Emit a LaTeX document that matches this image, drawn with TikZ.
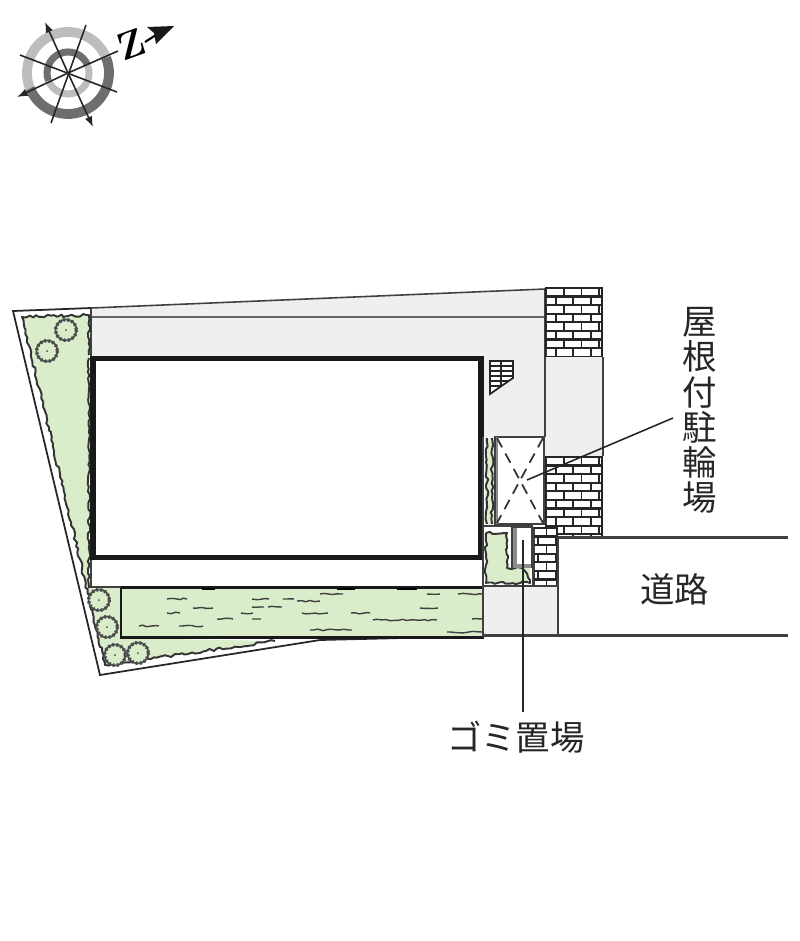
\documentclass[tikz,border=0pt]{standalone}
\usepackage{fontspec}
\newfontfamily\cjk{Noto Sans CJK JP}
\usetikzlibrary{arrows.meta,decorations.pathmorphing}
\definecolor{lawn}{HTML}{DAEDCB}
\definecolor{paving}{HTML}{EFEFEF}
\definecolor{ringlight}{HTML}{BDBDBD}
\definecolor{ringdark}{HTML}{6E6E6E}
\tikzset{
    wall/.style={draw=black!75, line width=.45pt},
    rough/.style={draw=black!80, line width=.55pt, line join=round, decorate, decoration={random steps, segment length=1pt, amplitude=.4pt}},
    tuft/.style={black!75, line width=.4pt, decorate, decoration={random steps, segment length=1.2pt, amplitude=.25pt}},
    treeline/.style={draw=black!70, line width=.5pt},
    treebump/.style={draw=black!70, line width=1pt, dash pattern=on .5pt off .7pt},
    spoke/.style={black!85, line width=.45pt},
    spokehead/.style={spoke, -{Latex[length=3pt, width=2.2pt]}},
    leader/.style={black!85, line width=.45pt},
    label/.style={font=\cjk\fontsize{9.8}{10}\selectfont, text=black!85, inner sep=0pt},
}
\newcommand{\brickwall}[4]{
    \fill[black!85] (#1,#2) rectangle (#3,#4);
    \begin{scope}
        \clip (#1+2,#2+2) rectangle (#3-2,#4-1);
        \foreach \row in {0,...,12} {
            \pgfmathsetmacro{\rowy}{#2+2+8.6*\row}
            \pgfmathsetmacro{\shift}{mod(\row,2)==0 ? 547.3 : 539.2}
            \foreach \col in {-1,...,3}
                \fill[white] (\shift+17.5*\col,\rowy) rectangle ++(15.8,6.4);
        }
    \end{scope}
}

\begin{document}
\begin{tikzpicture}[x=.01cm, y=-.01cm]
    \useasboundingbox (0,0) rectangle (800,941);

    \draw[ringlight, line width=2.8pt] (106,57.6) arc[start angle=-22, end angle=-202, radius=41];
    \draw[ringdark, line width=2.8pt] (106,57.6) arc[start angle=-22, end angle=158, radius=41];
    \draw[ringdark, line width=2pt] (87.5,65.1) arc[start angle=-22, end angle=-202, radius=21];
    \draw[ringlight, line width=2pt] (87.5,65.1) arc[start angle=-22, end angle=158, radius=21];
    \draw[spokehead] (68,73) -- (45,22);
    \draw[spokehead] (68,73) -- (93,127);
    \draw[spokehead] (68,73) -- (17,97);
    \draw[spoke] (68,73) -- (118,51);
    \draw[spoke] (86,25) -- (51,123);
    \draw[spoke] (20,55) -- (117,92);
    \node[rotate=20, font=\bfseries\fontsize{11}{11}\selectfont, inner sep=0pt] (north) at (131,44) {Z};
    \draw[black, line width=.6pt] (145,42) -- (156,35);
    \fill[black!90] (174,26) -- (147,27) -- (154,33) -- (156,44) -- cycle;

    \fill[paving] (91,308) -- (545,289) -- (545,437) -- (484,437) -- (484,357) -- (91,357) -- cycle;
    \fill[paving] (545,357) rectangle (603,456);
    \fill[paving] (484,587) rectangle (557,635);
    \draw[wall, draw=black!60, line width=.6pt] (91,317) -- (545,317);
    \draw[wall] (91,308) -- (545,289);
    \draw[wall] (545,289) -- (545,437);
    \draw[wall] (603,357) -- (603,456);

    \draw[black!85, line width=.5pt] (91,308) -- (13,311) -- (100,675) -- (320,640) -- (484,636);
    \draw[wall] (91,308) -- (91,357);
    \fill[lawn] (22,317) -- (89,315) -- (89,588) -- (121,588) -- (121,638) -- (275,641) -- (105,665) -- cycle;
    \draw[rough] (89,355) -- (89,315) -- (22,317) -- (105,665) -- (275,641);
    \draw[rough] (89,358) -- (89,588);

    \foreach \x/\y in {66/330, 47/351, 99/600, 107/627, 115/655, 138/653} {
        \draw[treeline, fill=lawn] (\x,\y) circle (10.5);
        \draw[treebump] (\x,\y) circle (10.5);
        \fill[black!70] (\x,\y) circle (1);
    }

    \fill[white] (91,357) rectangle (483,587);
    \draw[wall] (91,557) -- (91,587) -- (483,587);
    \draw[black!90, line width=1.5pt] (93,358.5) rectangle (481,557.5);

    \fill[lawn] (121,588) rectangle (483,637);
    \draw[black!90, line width=.75pt] (483,587.5) -- (121,587.5) (121,587) -- (121,637.5) -- (484,637.5);
    \foreach \xa/\xb/\ly in {167/187/599, 193/213/608, 167/180/613, 139/159/626, 179/203/626, 217/233/619, 252/269/599, 252/264/607, 268/282/607, 241/253/613, 252/261/619, 283/294/599, 297/320/601, 302/328/613, 310/352/630, 320/343/594, 351/370/613, 373/437/620, 427/440/594, 458/482/594, 420/438/608, 472/482/619, 447/482/632}
        \draw[tuft] (\xa,\ly) -- (\xb,\ly);
    \foreach \xa/\xb in {202/215, 337/355, 397/417}
        \draw[black, line width=.6pt] (\xa,589) -- (\xb,589);

    \brickwall{545}{287}{603}{357}
    \brickwall{545}{456}{603}{537}
    \brickwall{533}{527}{558}{585}

    \draw[wall, line width=.7pt] (483,437) -- (483,637);
    \fill[lawn] (485,438) rectangle (494,524);
    \draw[rough] (487,438) -- (487,524);
    \draw[rough] (492,438) -- (492,524);
    \filldraw[fill=white, wall] (495,437) rectangle (544,524);
    \draw[black!45, line width=.5pt] (497,437) -- (497,524);
    \draw[black!80, line width=.5pt, dash pattern=on 3pt off 2pt] (497,438) -- (543,523) (543,438) -- (497,523);
    \draw[wall] (484,526) -- (533,526);

    \fill[white] (484,527) rectangle (533,585);
    \fill[lawn] (486,533) -- (507,533) -- (507,567) -- (530,567) -- (530,583) -- (486,583) -- cycle;
    \draw[rough] (486,533) -- (507,533) -- (507,568) -- (522,568) -- (530,580) -- (530,583) -- (486,583) -- (486,533);
    \filldraw[fill=white, wall] (512,527) rectangle (532,567);
    \draw[black!45, line width=.9pt] (515,528) -- (515,566) -- (531,566);
    \draw[wall] (533,527) -- (533,585);

    \draw[wall, line width=.6pt] (484,586) -- (558,586);
    \draw[wall, line width=.6pt] (558,537) -- (558,635);
    \draw[wall, line width=.6pt] (558,537.5) -- (788,537.5);
    \draw[wall, line width=.6pt] (484,635.5) -- (788,635.5);

    \filldraw[fill=white, draw=black!85, line width=.5pt] (490,361) -- (513,361) -- (513,378) -- (490,394) -- cycle;
    \draw[black!85, line width=.4pt] (490,366) -- (513,366) (490,371) -- (513,371) (490,376) -- (513,376) (490,381) -- (508,381) (490,386) -- (501,386) (501,361) -- (501,386);
    \draw[black!85, line width=.8pt] (490,361) -- (490,394);

    \node[label] (road) at (675,589) {道路};
    \node[label, align=center] (bike) at (700,410.5) {屋\\根\\付\\駐\\輪\\場};
    \node[label] (trash) at (516,737) {ゴミ置場};
    \coordinate (bikespot) at (527,480);
    \coordinate (bikeend) at (673,418);
    \coordinate (trashspot) at (523,540);
    \coordinate (trashend) at (523,712);
    \draw[leader] (bikeend) -- (bikespot);
    \draw[leader] (trashend) -- (trashspot);
\end{tikzpicture}
\end{document}
